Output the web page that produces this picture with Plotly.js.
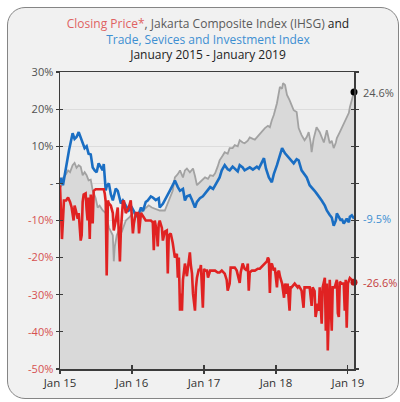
<!DOCTYPE html>
<html>
<head>
<meta charset="utf-8">
<script src="https://cdn.plot.ly/plotly-3.0.1.min.js"></script>
<style>
html,body{margin:0;padding:0;background:#ffffff;width:400px;height:402px;overflow:hidden;}
#card{position:absolute;left:7px;top:7px;width:390px;height:390px;border:1.5px solid #858585;border-radius:18px;background:#f1f1f1;}
#chart{position:absolute;left:0;top:0;width:400px;height:402px;}
</style>
</head>
<body>
<div id="card"></div>
<div id="chart"></div>
<script>
// ---- Data (percent change since January 2015) ----
var ihsgDates = ["2015-01-01","2015-01-06","2015-01-16","2015-02-01","2015-02-11","2015-02-21","2015-03-06","2015-03-16","2015-03-26","2015-04-06","2015-04-16","2015-04-26","2015-05-06","2015-05-16","2015-05-26","2015-06-06","2015-06-16","2015-07-01","2015-07-11","2015-07-21","2015-08-06","2015-08-21","2015-09-06","2015-09-16","2015-09-26","2015-10-01","2015-10-06","2015-10-16","2015-10-26","2015-11-11","2015-12-01","2015-12-21","2016-01-06","2016-02-01","2016-02-26","2016-03-11","2016-03-26","2016-04-11","2016-05-01","2016-05-21","2016-06-16","2016-07-01","2016-07-16","2016-07-26","2016-08-06","2016-08-21","2016-09-01","2016-09-16","2016-09-26","2016-10-06","2016-10-21","2016-11-06","2016-11-16","2016-11-26","2016-12-11","2016-12-26","2017-01-06","2017-01-21","2017-02-01","2017-02-16","2017-02-26","2017-03-11","2017-03-21","2017-04-06","2017-04-16","2017-05-01","2017-05-11","2017-05-26","2017-06-06","2017-06-21","2017-07-01","2017-07-16","2017-07-26","2017-08-11","2017-08-21","2017-09-06","2017-09-16","2017-09-26","2017-10-06","2017-10-21","2017-11-06","2017-11-21","2017-12-01","2017-12-11","2017-12-21","2018-01-06","2018-01-16","2018-01-21","2018-02-01","2018-02-06","2018-02-16","2018-02-26","2018-03-11","2018-03-21","2018-04-01","2018-04-16","2018-04-26","2018-05-11","2018-05-26","2018-06-06","2018-06-16","2018-06-26","2018-07-01","2018-07-11","2018-07-26","2018-08-11","2018-08-21","2018-09-01","2018-09-16","2018-09-26","2018-10-01","2018-10-11","2018-10-21","2018-11-01","2018-11-06","2018-11-21","2018-12-01","2018-12-11","2018-12-26","2019-01-06","2019-01-11","2019-01-21","2019-02-01"];
var ihsgValues = [0,-1,1.5,2.5,3.5,3,4.9,5.5,4.2,4.9,4.5,2.2,3,2.2,0.8,1,-1.9,-4,-6.5,-6,-7.3,-8,-11.9,-13,-14,-21,-17,-14,-12.7,-13,-10,-9,-8,-8.5,-7.3,-6.5,-5.9,-6.5,-7,-7.3,-7.3,-5.4,-3,-2,1.6,2.5,3.5,1.6,3.5,4,3,4,2,-0.5,0.3,1,1.6,1.2,2.2,2,2.7,4.5,6.2,7.5,8.4,8,9.5,9.5,10.3,10,11.6,11,10.8,11.5,12.4,12,11.8,12.4,13,14,14.9,15.5,15.1,17,18.4,21.6,24,26,25.5,27,26.5,23.8,22.4,21,19.7,19.2,14.9,13,11.6,12.5,13.8,11,8.4,12,15.1,13.8,12.5,11,14.3,12,10.8,11.5,9.5,11,12.2,13.8,15,15.7,17.6,19,20.5,22.5,24.6];

var tradeDates = ["2015-01-01","2015-01-06","2015-01-16","2015-01-26","2015-02-06","2015-02-16","2015-02-26","2015-03-06","2015-03-16","2015-03-26","2015-04-06","2015-04-16","2015-04-26","2015-05-06","2015-05-16","2015-05-26","2015-06-06","2015-06-16","2015-06-26","2015-07-06","2015-07-16","2015-07-26","2015-08-06","2015-08-11","2015-08-21","2015-08-26","2015-09-06","2015-09-16","2015-09-26","2015-10-11","2015-10-21","2015-11-06","2015-11-16","2015-12-01","2015-12-16","2016-01-01","2016-01-16","2016-01-26","2016-02-06","2016-02-16","2016-02-26","2016-03-11","2016-03-21","2016-04-06","2016-04-16","2016-05-01","2016-05-16","2016-05-21","2016-06-06","2016-06-16","2016-07-01","2016-07-11","2016-07-26","2016-08-06","2016-08-21","2016-09-01","2016-09-16","2016-09-26","2016-10-06","2016-10-21","2016-11-01","2016-11-16","2016-11-26","2016-12-11","2016-12-26","2017-01-06","2017-01-21","2017-02-01","2017-02-16","2017-02-26","2017-03-11","2017-03-21","2017-04-01","2017-04-16","2017-05-01","2017-05-11","2017-05-26","2017-06-06","2017-06-21","2017-07-01","2017-07-16","2017-07-26","2017-08-11","2017-08-21","2017-09-06","2017-09-16","2017-09-26","2017-10-06","2017-10-21","2017-11-01","2017-11-11","2017-11-26","2017-12-11","2017-12-21","2018-01-06","2018-01-21","2018-02-01","2018-02-16","2018-02-26","2018-03-06","2018-03-21","2018-04-01","2018-04-16","2018-04-26","2018-05-11","2018-05-26","2018-06-06","2018-06-21","2018-07-01","2018-07-16","2018-07-26","2018-08-11","2018-08-21","2018-09-06","2018-09-16","2018-10-01","2018-10-11","2018-10-21","2018-11-01","2018-11-06","2018-11-16","2018-11-26","2018-12-01","2018-12-11","2018-12-21","2018-12-26","2019-01-06","2019-01-11","2019-01-21","2019-02-01"];
var tradeValues = [0,1.5,-0.5,3,6,9,11.5,13.5,12,12.5,13.8,12.5,10.8,9.5,10,8,7.8,4.3,3.5,3,5.4,4.5,3.5,5.2,-1.9,-0.8,0,-3,-4.6,-1.4,-2,-5.4,-4.6,-6,-7.3,-6.5,-7.8,-9,-8,-6.5,-7.5,-5,-4.6,-3.5,-3.8,-4.5,-4,-6.5,-5.5,-4.6,-3,-2,-0.5,0.8,-1,-2,-1.5,-4.6,-3.5,-3.2,-4.5,-6.5,-5,-4,-3.5,-2.7,-1.5,-1,-1.5,-0.5,0.5,1.6,3.5,4.9,3.8,3.5,4.5,4,3.2,4.9,4.3,3.5,4,4.3,3.7,4,4.5,4,5.5,6.8,4,1.6,0.3,2.5,4.9,7.5,9.5,8.1,7.5,7,6,5.4,6.5,6.2,3.5,2.5,1.6,-0.5,-1,-2,-2.7,-3.8,-4.6,-6,-7.3,-8.5,-9.2,-11.4,-10,-8.1,-9.2,-10,-9.5,-10.8,-10,-9.5,-10.5,-9,-8.6,-9.5];

var priceDates = ["2015-01-01","2015-01-06","2015-01-11","2015-01-16","2015-01-21","2015-02-01","2015-02-11","2015-02-21","2015-03-01","2015-03-11","2015-03-16","2015-03-21","2015-04-01","2015-04-06","2015-04-16","2015-04-21","2015-04-26","2015-05-01","2015-05-11","2015-05-16","2015-05-21","2015-05-26","2015-06-01","2015-06-06","2015-06-16","2015-06-21","2015-07-01","2015-07-21","2015-08-11","2015-08-16","2015-08-21","2015-08-26","2015-09-01","2015-09-06","2015-09-16","2015-09-26","2015-10-01","2015-10-11","2015-10-21","2015-11-01","2015-11-06","2015-11-16","2015-11-21","2015-12-01","2015-12-11","2015-12-16","2015-12-26","2016-01-06","2016-01-11","2016-01-21","2016-02-01","2016-02-06","2016-02-16","2016-03-01","2016-03-11","2016-03-21","2016-04-06","2016-04-16","2016-04-21","2016-04-26","2016-05-06","2016-05-11","2016-05-16","2016-05-21","2016-06-01","2016-06-06","2016-06-16","2016-06-26","2016-07-01","2016-07-06","2016-07-16","2016-07-26","2016-08-06","2016-08-16","2016-08-21","2016-08-26","2016-09-01","2016-09-06","2016-09-11","2016-09-16","2016-09-26","2016-10-06","2016-10-11","2016-10-21","2016-10-26","2016-11-01","2016-11-06","2016-11-16","2016-11-21","2016-11-26","2016-12-06","2016-12-11","2016-12-16","2016-12-21","2016-12-26","2017-01-01","2017-01-06","2017-01-16","2017-01-21","2017-02-01","2017-02-11","2017-02-26","2017-03-11","2017-03-21","2017-04-01","2017-04-16","2017-04-26","2017-05-01","2017-05-11","2017-05-16","2017-05-26","2017-06-06","2017-06-16","2017-07-01","2017-07-06","2017-07-16","2017-07-26","2017-08-06","2017-08-11","2017-08-16","2017-08-21","2017-09-01","2017-09-16","2017-10-01","2017-10-11","2017-10-21","2017-11-06","2017-11-16","2017-11-21","2017-11-26","2017-12-01","2017-12-06","2017-12-11","2017-12-21","2017-12-26","2018-01-06","2018-01-11","2018-01-16","2018-01-21","2018-02-01","2018-02-11","2018-02-16","2018-02-26","2018-03-01","2018-03-11","2018-03-16","2018-03-21","2018-04-06","2018-04-21","2018-04-26","2018-05-11","2018-05-21","2018-05-26","2018-06-06","2018-06-21","2018-07-01","2018-07-06","2018-07-16","2018-07-21","2018-08-01","2018-08-06","2018-08-11","2018-08-21","2018-08-26","2018-09-06","2018-09-11","2018-09-16","2018-09-21","2018-09-26","2018-10-01","2018-10-11","2018-10-16","2018-10-26","2018-11-06","2018-11-11","2018-11-16","2018-11-21","2018-12-01","2018-12-11","2018-12-16","2018-12-21","2018-12-26","2019-01-01","2019-01-06","2019-01-11","2019-01-21","2019-02-01"];
var priceValues = [-0.5,-8,-15,-10,-4.6,-4.6,-3.8,-5,-6.5,-10,-6,-7,-9.5,-8,-15.4,-14,-5,-3,-2.7,-7,-10,-3.8,-15,-3,-10.8,-2,-1.6,-1.6,-1.6,-2.7,-5,-24.8,-4.6,-5.4,-6,-8,-12.7,-10,-6.5,-21,-12.7,-5,-4.6,-8,-7,-6.5,-4.6,-13.5,-10.8,-8,-8,-13.5,-8,-9,-10,-10,-10,-10.5,-18,-10,-13,-17,-11,-10,-12,-15.4,-13,-12.7,-24.3,-14,-13.5,-16,-20,-19,-25.4,-20,-34.3,-29.7,-34.3,-26,-21.6,-25,-22.7,-18.6,-22,-24.3,-29.7,-34.3,-28,-25.4,-23,-23.5,-22,-28.9,-33.5,-23,-23.5,-23.5,-25.4,-23.5,-23.5,-23.5,-24,-24,-23.5,-24.3,-26,-28.9,-27,-22.7,-22.7,-22.7,-23.5,-26.8,-24,-21.6,-23,-23.5,-21.6,-28.9,-24,-23.5,-23.5,-23,-23,-22.5,-21.6,-21,-20,-20.5,-29.5,-22,-21.6,-23.5,-22.7,-28,-24,-23.5,-25,-27,-30.8,-27,-29.7,-27,-34.3,-28,-28,-27,-28,-27.5,-28.9,-33.5,-28,-28,-28,-33,-28,-29,-36,-32.4,-34.3,-28,-37.8,-28,-25.4,-39.7,-27,-45,-30,-26,-39.7,-28,-28,-26,-35,-36,-26.5,-27,-27,-34.3,-26,-38.9,-27,-26,-25.5,-26,-26.6];

var xTickVals = ["2015-01-01","2016-01-01","2017-01-01","2018-01-01","2019-01-01"];
var xTickText = ["Jan 15","Jan 16","Jan 17","Jan 18","Jan 19"];
var yTickVals = [-50,-40,-30,-20,-10,0,10,20,30];
var yTickText = ["-50%","-40%","-30%","-20%","-10%","-","10%","20%","30%"];
var xRange = ["2015-01-01","2019-02-01"];
var yRange = [-50,30];

var RED = "#e02222", BLUE = "#1a6ec3", GRAYLINE = "#a2a2a2", FILL = "#d9d9d9";
var NEG_LABEL = "#d65050", POS_LABEL = "#505050";

var styledY = yTickText.map(function(t, i){
  var c = yTickVals[i] < 0 ? NEG_LABEL : POS_LABEL;
  return "<span style='color:" + c + "'>" + t + "</span>";
});

function last(a){ return a[a.length-1]; }

var traces = [
  { x: [ihsgDates[0], last(ihsgDates)], y: [yRange[0], yRange[0]], mode: "lines",
    line: {width: 0, color: "rgba(0,0,0,0)"}, hoverinfo: "skip", showlegend: false },
  { x: ihsgDates, y: ihsgValues, mode: "lines", fill: "tonexty", fillcolor: FILL,
    line: {color: GRAYLINE, width: 1.8}, showlegend: false },
  { x: tradeDates, y: tradeValues, mode: "lines", line: {color: BLUE, width: 2.6}, showlegend: false },
  { x: priceDates, y: priceValues, mode: "lines", line: {color: RED, width: 2.6}, showlegend: false },
  { x: [last(ihsgDates)], y: [last(ihsgValues)], mode: "markers", marker: {color: "#000000", size: 7}, showlegend: false, cliponaxis: false },
  { x: [last(priceDates)], y: [last(priceValues)], mode: "markers", marker: {color: "#b81414", size: 7}, showlegend: false, cliponaxis: false },
  { x: [xRange[0]], y: [0], xaxis: "x2", yaxis: "y2", mode: "markers", marker: {opacity: 0}, hoverinfo: "skip", showlegend: false }
];

var font = "Open Sans, Noto Sans, sans-serif";
var axisLine = "#3c3c3c";

var title = "<span style='color:#e06262'>Closing Price*</span><span style='color:#5a5a5a'>, Jakarta Composite Index (IHSG)</span><span style='color:#222'> and</span><br>" +
  "<span style='color:#3d8fd1'>Trade, Sevices and Investment Index</span><br>" +
  "<span style='color:#222'>January 2015 - January 2019</span>";

var layout = {
  width: 400, height: 402,
  margin: {l: 60, r: 46, t: 72, b: 33},
  paper_bgcolor: "rgba(0,0,0,0)",
  plot_bgcolor: "#eeeeee",
  font: {family: font, size: 11, color: "#333"},
  title: {text: title, font: {family: font, size: 12, color: "#222"}, x: 0.52, xanchor: "center", xref: "container", y: 0.93, yanchor: "top", yref: "container"},
  showlegend: false,
  xaxis: {type: "date", range: xRange, tickvals: xTickVals, ticktext: xTickText,
    showgrid: false, zeroline: false, showline: true, linecolor: axisLine, linewidth: 1.5, mirror: true,
    ticks: "outside", ticklen: 3, tickcolor: axisLine, tickwidth: 1.2,
    tickfont: {family: font, size: 11.5, color: "#333"}, fixedrange: true},
  xaxis2: {type: "date", range: xRange, tickvals: xTickVals, overlaying: "x", anchor: "y2", side: "bottom",
    showticklabels: false, showgrid: false, zeroline: false, showline: false,
    ticks: "inside", ticklen: 4, tickcolor: axisLine, tickwidth: 1.2},
  yaxis: {range: yRange, tickvals: yTickVals, ticktext: styledY,
    showgrid: true, gridcolor: "#dcdcdc", gridwidth: 1, zeroline: false,
    showline: true, linecolor: axisLine, linewidth: 1.5, mirror: "ticks",
    ticks: "outside", ticklen: 3, tickcolor: axisLine, tickwidth: 1.2,
    tickfont: {family: font, size: 11}, fixedrange: true},
  yaxis2: {range: yRange, tickvals: yTickVals, overlaying: "y", anchor: "x2", side: "left",
    showticklabels: false, showgrid: false, zeroline: false, showline: false, mirror: "ticks",
    ticks: "inside", ticklen: 3, tickcolor: axisLine, tickwidth: 1.2},
  annotations: [
    {xref: "paper", x: 1, xanchor: "left", xshift: 7, yref: "y", y: last(ihsgValues), text: last(ihsgValues).toFixed(1) + "%", showarrow: false, font: {family: font, size: 11, color: "#555"}},
    {xref: "paper", x: 1, xanchor: "left", xshift: 7, yref: "y", y: last(tradeValues), text: last(tradeValues).toFixed(1) + "%", showarrow: false, font: {family: font, size: 11, color: "#3d8fd1"}},
    {xref: "paper", x: 1, xanchor: "left", xshift: 7, yref: "y", y: last(priceValues), text: last(priceValues).toFixed(1) + "%", showarrow: false, font: {family: font, size: 11, color: "#c43c3c"}}
  ]
};

Plotly.newPlot("chart", traces, layout, {displayModeBar: false, staticPlot: true});
</script>
</body>
</html>
